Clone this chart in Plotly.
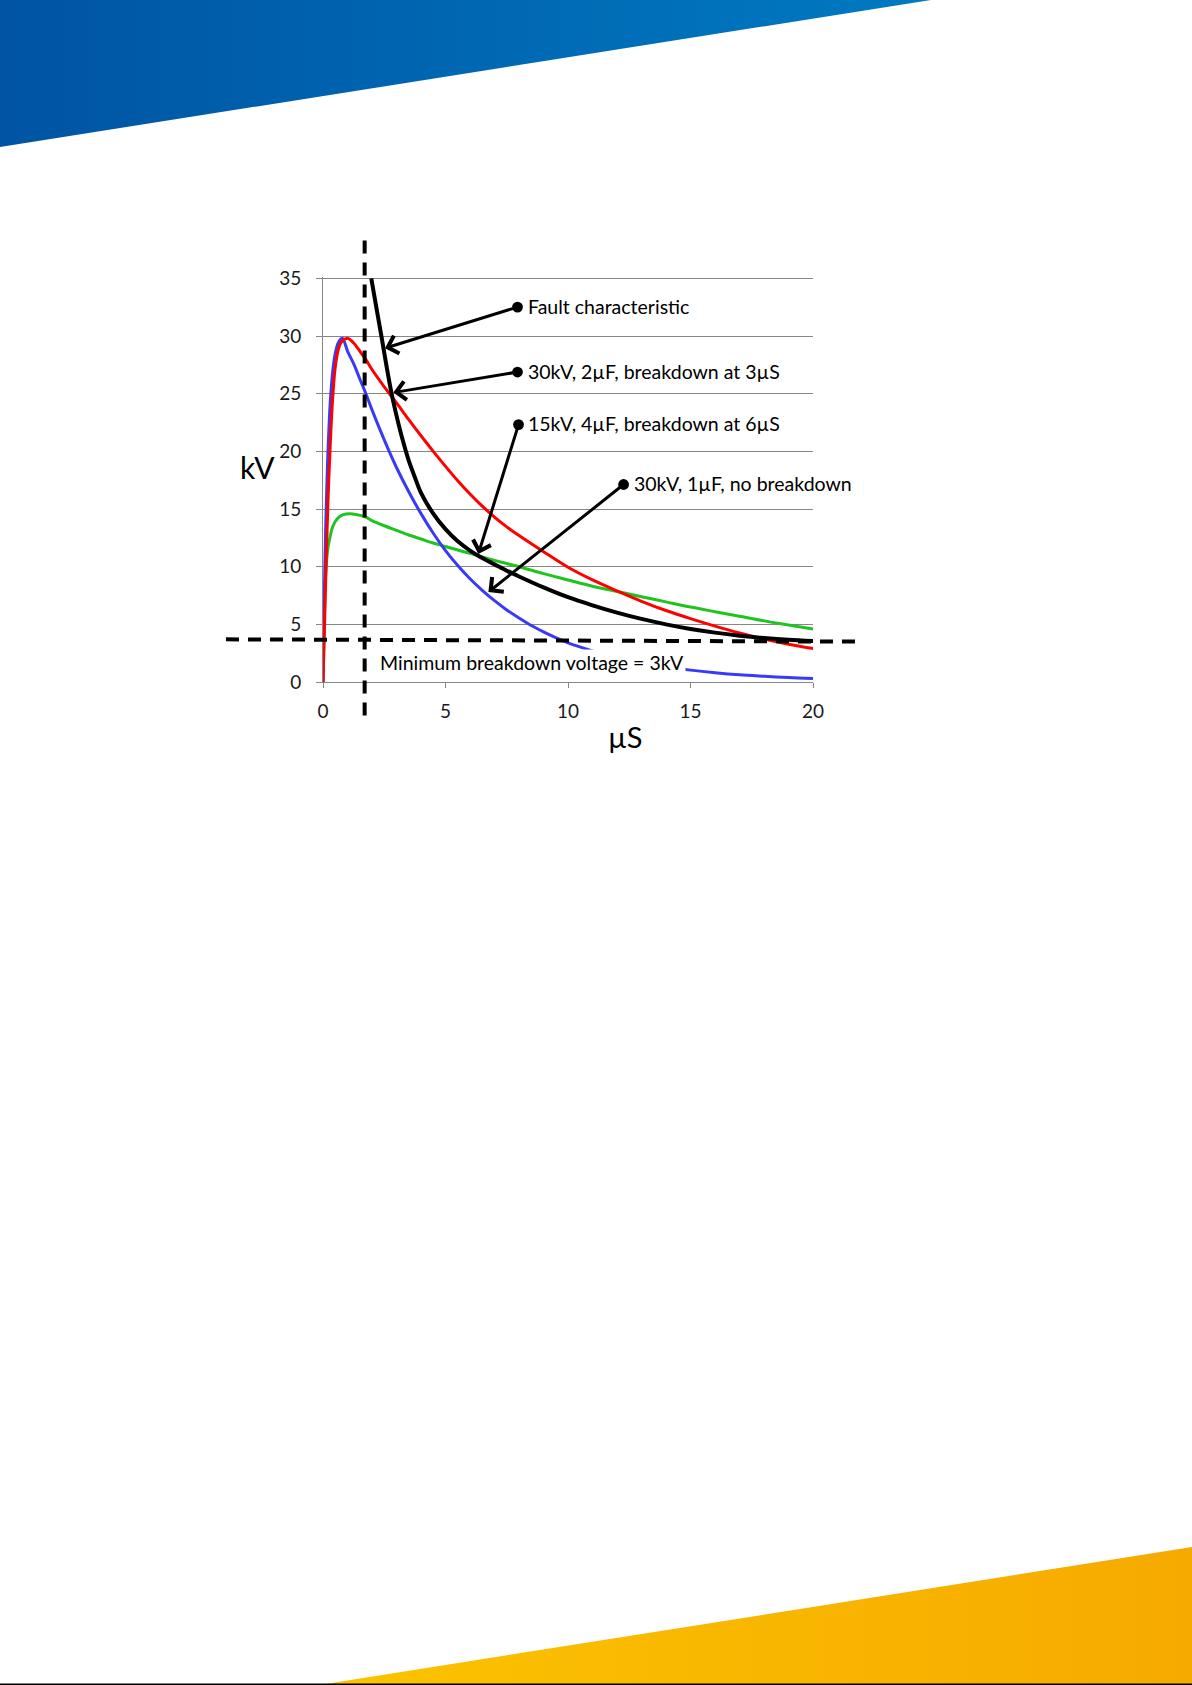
import base64
import plotly.graph_objects as go

# curve readings (x in microseconds, y in kV)
blue_x = [0, 0.05, 0.1, 0.15, 0.2, 0.3, 0.4, 0.5, 0.6, 0.7, 0.8, 1.0, 1.25, 1.5, 1.75, 2.0, 2.5, 3.0, 3.5, 4.0,
          4.5, 5.0, 5.5, 6.0, 6.5, 7.0, 7.5, 8.0, 8.5, 9.0, 9.5, 10, 11, 12, 13, 14, 15, 16, 17, 18, 19, 20]
blue_y = [0, 7, 12.5, 16.5, 19.8, 24.4, 27.0, 28.5, 29.3, 29.7, 29.8, 28.7, 27.6, 26.3, 25.0, 23.6, 21.0, 18.6, 16.5, 14.6,
          12.9, 11.4, 10.1, 8.95, 7.95, 7.05, 6.25, 5.55, 4.9, 4.35, 3.85, 3.4, 2.7, 2.1, 1.65, 1.3, 1.03, 0.81, 0.63, 0.5, 0.38, 0.3]

red_x = [0, 0.05, 0.1, 0.2, 0.3, 0.4, 0.5, 0.6, 0.7, 0.8, 1.0, 1.25, 1.5, 1.75, 2, 2.5, 3, 3.5, 4, 4.5,
         5, 5.5, 6, 6.5, 7, 7.5, 8, 9, 10, 11, 12, 13, 14, 15, 16, 17, 18, 19, 20]
red_y = [0, 4, 8, 15.5, 20.8, 24.8, 27.3, 28.6, 29.3, 29.6, 29.8, 29.4, 28.7, 27.95, 27.1, 25.6, 24.2, 22.75, 21.35, 20.0,
         18.7, 17.45, 16.3, 15.25, 14.3, 13.45, 12.7, 11.3, 9.95, 8.85, 7.9, 7.0, 6.2, 5.5, 4.85, 4.25, 3.72, 3.27, 2.9]

green_x = [0, 0.05, 0.1, 0.2, 0.3, 0.4, 0.6, 0.8, 1.1, 1.4, 1.75, 2, 2.5, 3, 3.5, 4, 4.5, 5, 5.5, 6,
           6.5, 7, 7.5, 8, 9, 10, 11, 12, 13, 14, 15, 16, 17, 18, 19, 20]
green_y = [0, 5, 9.0, 11.6, 12.7, 13.5, 14.2, 14.5, 14.6, 14.5, 14.3, 14.0, 13.55, 13.15, 12.75, 12.4, 12.05, 11.75, 11.45, 11.15,
           10.85, 10.55, 10.27, 10.0, 9.4, 8.85, 8.3, 7.85, 7.4, 6.95, 6.5, 6.1, 5.7, 5.3, 4.95, 4.6]

fault_x = [1.97, 2.2, 2.4, 2.6, 2.8, 3.0, 3.25, 3.5, 3.75, 4.0, 4.5, 5.0, 5.5, 6.0, 6.5, 7, 7.5, 8,
           9, 10, 11, 12, 13, 14, 15, 16, 17, 18, 19, 20]
fault_y = [35, 32.2, 29.8, 27.3, 25.0, 23.1, 21.0, 19.2, 17.75, 16.4, 14.6, 13.25, 12.2, 11.4, 10.75, 10.2, 9.65, 9.15,
           8.2, 7.35, 6.65, 6.02, 5.47, 5.0, 4.6, 4.28, 4.02, 3.82, 3.66, 3.55]

# callouts: text, dot (tail) and arrow tip
labels = ["Fault characteristic", "30kV, 2µF, breakdown at 3µS",
          "15kV, 4µF, breakdown at 6µS", "30kV, 1µF, no breakdown"]
tail_x = [8.0, 8.0, 8.0, 12.33]
tail_y = [32.55, 26.9, 22.45, 17.23]
tip_x = [2.53, 2.87, 6.34, 6.75]
tip_y = [28.95, 25.1, 11.1, 7.8]

min_time = 1.7          # vertical dashed line
min_volt = [3.7, 3.5]   # horizontal dashed line (left end, right end)
x_ticks = [0, 5, 10, 15, 20]
y_ticks = [0, 5, 10, 15, 20, 25, 30, 35]
Y_TOP = 35.12  # a hair above 35 so the top gridline is kept

W, H = 1192, 1685
ML, MR, MT, MB = 323, 379, 277, 1003
PW, PH = W - ML - MR, H - MT - MB


def px(x):
    return (x - ML) / PW


def py(y):
    return (H - MB - y) / PH


FONT = "Lato"

# slide decoration (blue and yellow wedges)
svg = f'''<svg xmlns="http://www.w3.org/2000/svg" width="{W}" height="{H}" viewBox="0 0 {W} {H}">
<defs>
<linearGradient id="b" x1="0" y1="0" x2="1" y2="0"><stop offset="0" stop-color="#0054A3"/><stop offset="1" stop-color="#007AC2"/></linearGradient>
<linearGradient id="g" x1="0" y1="0" x2="1" y2="0"><stop offset="0" stop-color="#FCC300"/><stop offset="1" stop-color="#F6AA00"/></linearGradient>
</defs>
<polygon points="0,0 931,0 0,147" fill="url(#b)"/>
<polygon points="319,{H} {W},1547 {W},{H}" fill="url(#g)"/>
<rect x="0" y="{H - 1.5}" width="{W}" height="1.5" fill="#000"/>
</svg>'''
bg_src = "data:image/svg+xml;base64," + base64.b64encode(svg.encode()).decode()

smooth = dict(shape="spline", smoothing=0.9)
fig = go.Figure()
fig.add_trace(go.Scatter(x=green_x, y=green_y, mode="lines", line=dict(color="#1fc41f", width=3, **smooth)))
fig.add_trace(go.Scatter(x=blue_x, y=blue_y, mode="lines", line=dict(color="#3a3af6", width=3, **smooth)))
fig.add_trace(go.Scatter(x=red_x, y=red_y, mode="lines", line=dict(color="#ff0000", width=3, **smooth)))
fig.add_trace(go.Scatter(x=fault_x, y=fault_y, mode="lines", line=dict(color="black", width=4, **smooth)))

# dashed guide lines
dash_line = dict(color="black", width=4, dash="13px,9px")
fig.add_shape(type="line", xref="paper", yref="paper", x0=min_time / 20, x1=min_time / 20,
              y0=-2.9 / Y_TOP, y1=38.3 / Y_TOP, line=dash_line, layer="above")
fig.add_shape(type="line", xref="paper", yref="paper", x0=-3.96 / 20, x1=21.9 / 20,
              y0=min_volt[0] / Y_TOP, y1=min_volt[1] / Y_TOP, line=dash_line, layer="above")

annotations = []
for t, ax_, ay_, x_, y_ in zip(labels, tail_x, tail_y, tip_x, tip_y):
    annotations.append(dict(x=x_, y=y_, ax=ax_, ay=ay_, xref="x", yref="y", axref="x", ayref="y", text="",
                            showarrow=True, arrowhead=4, arrowsize=1.2, arrowwidth=3, arrowcolor="black",
                            arrowside="end+start", startarrowhead=6, startarrowsize=0.9))
    annotations.append(dict(x=ax_ + 0.3, y=ay_, xref="x", yref="y", text=t, showarrow=False,
                            xanchor="left", yanchor="middle", font=dict(family=FONT, size=19.5, color="black")))

annotations.append(dict(x=2.25, y=1.7, xref="x", yref="y", text="Minimum breakdown voltage = 3kV", showarrow=False,
                        xanchor="left", yanchor="middle", bgcolor="white",
                        font=dict(family=FONT, size=19.5, color="black")))
annotations.append(dict(x=px(257), y=py(467), xref="paper", yref="paper", text="kV", showarrow=False,
                        xanchor="center", yanchor="middle", font=dict(family=FONT, size=30, color="black")))
annotations.append(dict(x=px(625), y=py(736), xref="paper", yref="paper", text="µS", showarrow=False,
                        xanchor="center", yanchor="middle", font=dict(family=FONT, size=29, color="black")))

fig.update_layout(
    width=W, height=H,
    margin=dict(l=ML, r=MR, t=MT, b=MB),
    paper_bgcolor="white", plot_bgcolor="white",
    showlegend=False,
    font=dict(family=FONT, size=19, color="#1a1a1a"),
    annotations=annotations,
    images=[dict(source=bg_src, xref="paper", yref="paper", x=px(0), y=py(0),
                 sizex=W / PW, sizey=H / PH, xanchor="left", yanchor="top",
                 sizing="stretch", layer="below")],
)
fig.update_xaxes(range=[0, 20], tickvals=x_ticks, showgrid=False, zeroline=False,
                 showline=True, linecolor="#868686", linewidth=1,
                 ticks="outside", ticklen=5, tickcolor="#868686", ticklabelstandoff=7)
fig.update_yaxes(range=[0, Y_TOP], tickvals=y_ticks, showgrid=True, gridcolor="#868686", gridwidth=1,
                 zeroline=False, showline=True, linecolor="#868686", linewidth=1,
                 ticks="outside", ticklen=6, tickcolor="#868686", ticklabelstandoff=11)

fig.write_html("out.html", config={"displayModeBar": False},
               post_script="document.body.style.margin = '0';")
